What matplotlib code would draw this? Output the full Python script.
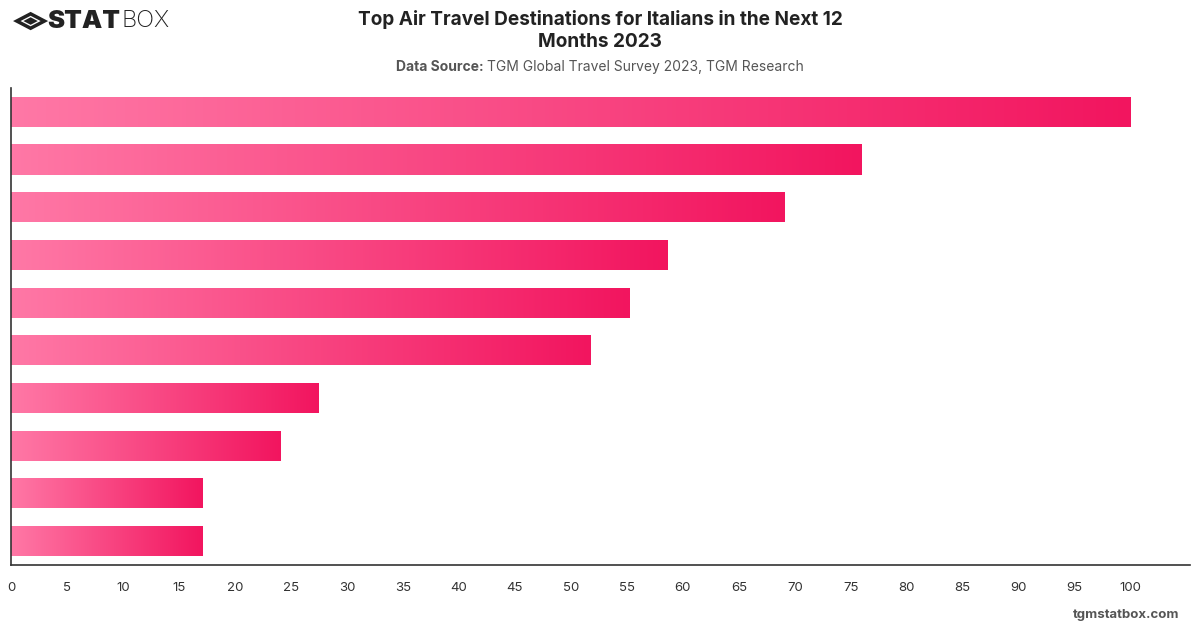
import numpy as np
import matplotlib.pyplot as plt
from matplotlib.colors import LinearSegmentedColormap
from matplotlib.patches import RegularPolygon

plt.rcParams['font.family'] = ['Inter', 'DejaVu Sans']

# bar values, top to bottom (no category labels shown in the chart)
values = [100, 76.0, 69.1, 58.6, 55.2, 51.8, 27.5, 24.1, 17.1, 17.1]
xticks = list(range(0, 101, 5))

title = "Top Air Travel Destinations for Italians in the Next 12\nMonths 2023"
source_label = "Data Source: "
source = "TGM Global Travel Survey 2023, TGM Research"

fig = plt.figure(figsize=(12, 6.28), dpi=100)
ax = fig.add_axes([0.0092, 0.1003, 0.9825, 0.7597])

cmap = LinearSegmentedColormap.from_list("pink", ["#ff78a6", "#f2155f"])
grad = np.linspace(0, 1, 256).reshape(1, -1)

y = np.arange(len(values))
bars = ax.barh(y, values, height=0.63, color="none", edgecolor="none")
for b, v in zip(bars, values):
    y0 = b.get_y()
    im = ax.imshow(grad, cmap=cmap, aspect="auto",
                   extent=[0, v, y0 + b.get_height(), y0], zorder=2)
    im.set_clip_path(b)

ax.set_xlim(0, 105.3)
ax.set_ylim(len(values) - 0.5, -0.5)
ax.set_xticks(xticks)
ax.set_xticklabels([str(t) for t in xticks], fontsize=9.5, color="#333333")
ax.set_yticks([])
ax.tick_params(axis="x", length=0, pad=12)
for s in ["top", "right"]:
    ax.spines[s].set_visible(False)
for s in ["left", "bottom"]:
    ax.spines[s].set_color("#333333")
    ax.spines[s].set_linewidth(1.2)

fig.text(0.5, 0.984, title, ha="center", va="top", fontsize=13.7,
         fontweight="bold", color="#222222", linespacing=1.3)

# subtitle: bold label + plain text, centred as one line
fig.canvas.draw()
r = fig.canvas.get_renderer()
t1 = fig.text(0, 0.893, source_label, ha="left", va="center", fontsize=10,
              fontweight="bold", color="#555555")
t2 = fig.text(0, 0.893, source, ha="left", va="center", fontsize=10,
              color="#555555")
w1 = t1.get_window_extent(r).width / fig.bbox.width
w2 = t2.get_window_extent(r).width / fig.bbox.width
x0 = 0.5 - (w1 + w2) / 2
t1.set_x(x0)
t2.set_x(x0 + w1)

# logo
fig.patches.append(RegularPolygon((0.0255, 0.9665), 4, radius=0.0115,
                                  transform=fig.transFigure, facecolor="none",
                                  edgecolor="#222222", linewidth=2.5))
fig.patches.append(RegularPolygon((0.0255, 0.9665), 4, radius=0.006,
                                  transform=fig.transFigure, facecolor="#222222",
                                  edgecolor="none"))
s1 = fig.text(0.039, 0.966, "STAT", ha="left", va="center", fontsize=18.5,
              fontweight="black", color="#222222")
ws = s1.get_window_extent(r).width / fig.bbox.width
fig.text(0.039 + ws + 0.001, 0.966, "BOX", ha="left", va="center", fontsize=17,
         fontweight="light", color="#222222")

fig.text(0.983, 0.021, "tgmstatbox.com", ha="right", va="center", fontsize=9.5,
         fontweight="bold", color="#555555")

fig.savefig("out.png", dpi=100, facecolor="white")
